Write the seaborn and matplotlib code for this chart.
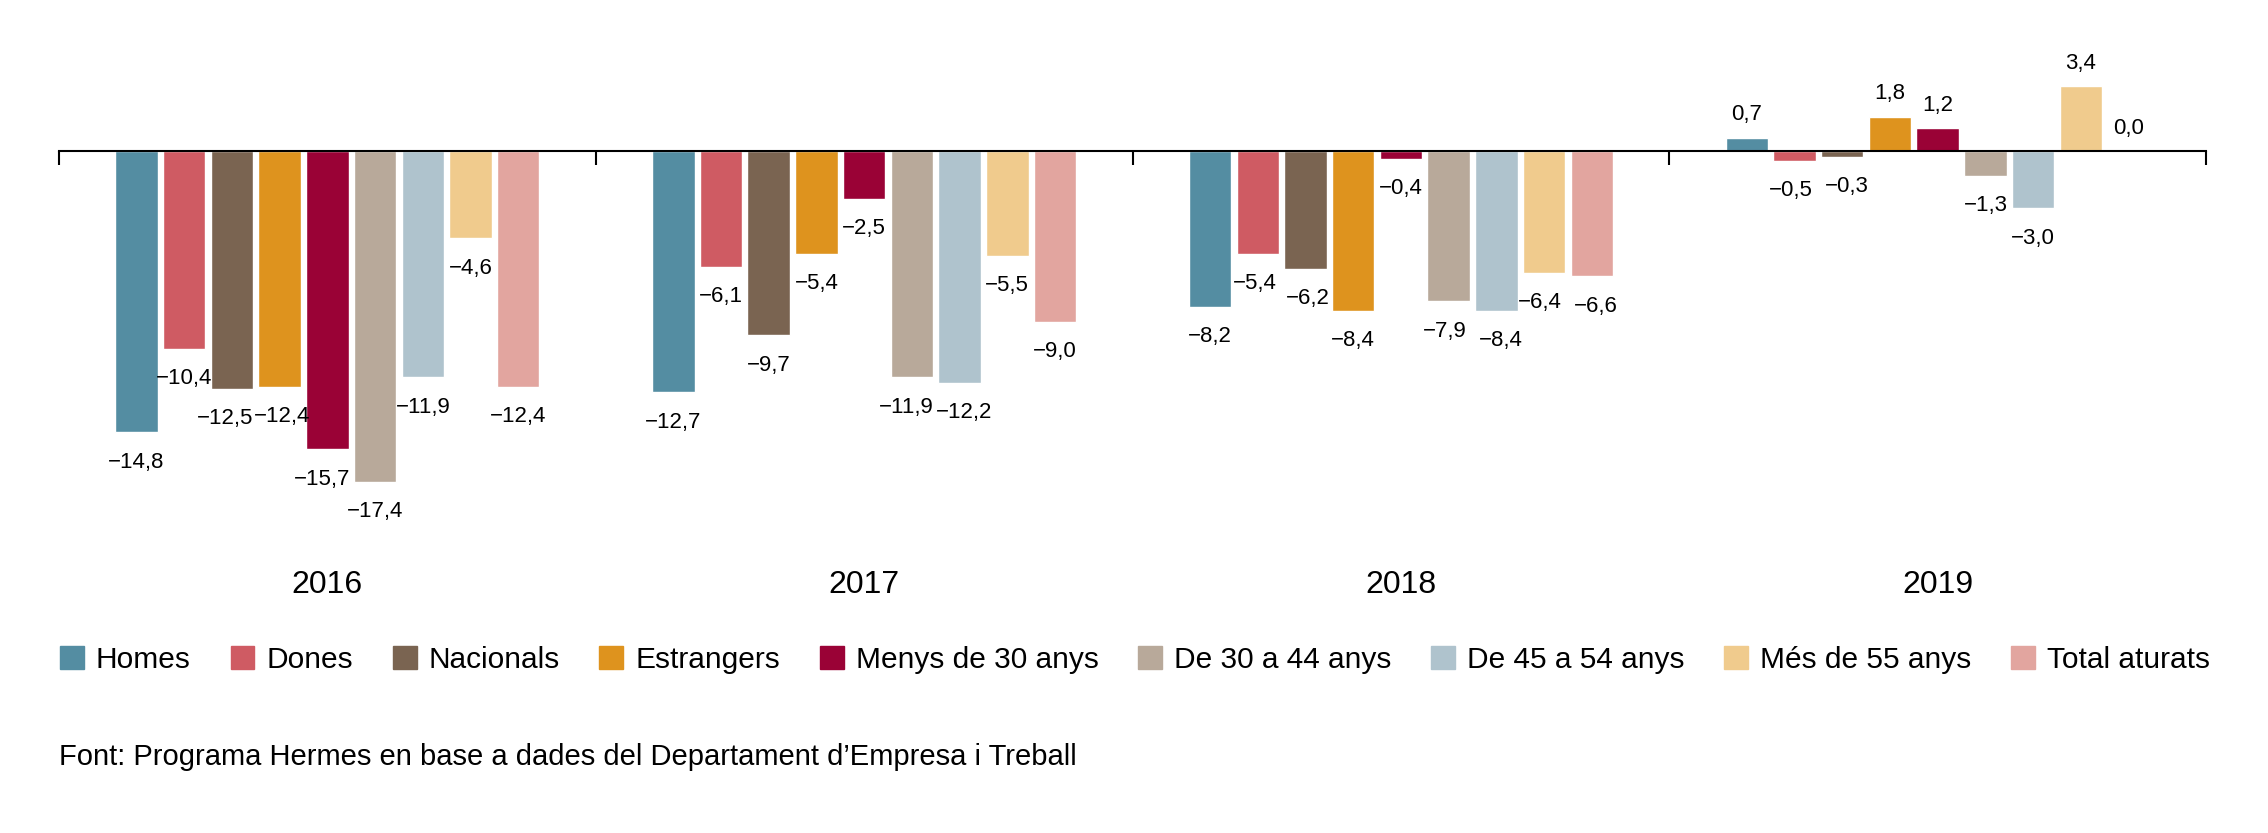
import pandas as pd
import matplotlib.pyplot as plt
import matplotlib.transforms as mtransforms
import seaborn as sns

# dades (variació %, llegides del gràfic)
anys = ["2016", "2017", "2018", "2019"]
grups = ["Homes", "Dones", "Nacionals", "Estrangers", "Menys de 30 anys",
         "De 30 a 44 anys", "De 45 a 54 anys", "Més de 55 anys", "Total aturats"]
colors = ["#548DA2", "#CF5B63", "#7A6451", "#DE931E", "#9A0236",
          "#B8A99A", "#AFC3CD", "#F0CB8D", "#E2A59F"]

v2016 = [-14.8, -10.4, -12.5, -12.4, -15.7, -17.4, -11.9, -4.6, -12.4]
v2017 = [-12.7, -6.1, -9.7, -5.4, -2.5, -11.9, -12.2, -5.5, -9.0]
v2018 = [-8.2, -5.4, -6.2, -8.4, -0.4, -7.9, -8.4, -6.4, -6.6]
v2019 = [0.7, -0.5, -0.3, 1.8, 1.2, -1.3, -3.0, 3.4, 0.0]

font_txt = "Font: Programa Hermes en base a dades del Departament d\u2019Empresa i Treball"

# petits desplaçaments (punts) d'algunes etiquetes perquè no es trepitgin
nudge = {(0, 2): -5, (0, 3): 2, (0, 4): -4, (1, 5): -4, (1, 6): 3, (2, 1): -2, (2, 2): 2,
         (2, 5): -3, (2, 6): 3, (2, 7): -3, (2, 8): 3, (3, 1): -3, (3, 2): 3}

rows = []
for any_, vals in zip(anys, [v2016, v2017, v2018, v2019]):
    for g, v in zip(grups, vals):
        rows.append({"any": any_, "grup": g, "valor": v})
df = pd.DataFrame(rows)

sns.set_theme(style="white")
plt.rcParams["font.family"] = ["Liberation Sans", "DejaVu Sans"]
plt.rcParams["text.color"] = "black"

fig = plt.figure(figsize=(22.68, 8.33), dpi=100)
ax = fig.add_axes([0.026, 0.3625, 0.9467, 0.593])

sns.barplot(data=df, x="any", y="valor", hue="grup", order=anys, hue_order=grups,
            palette=dict(zip(grups, colors)), width=0.8, gap=0.11,
            saturation=1, errorbar=None, legend=False, ax=ax)

def fmt(v):
    return f"{v:.1f}".replace(".", ",").replace("-", "\u2212")

for j, cont in enumerate(ax.containers):
    vals = [b.get_height() for b in cont]
    anns = ax.bar_label(cont, labels=[fmt(v) for v in vals], padding=9,
                        fontsize=16, color="black")
    for i, a in enumerate(anns):
        dx = nudge.get((i, j), 0)
        dy = -5 if vals[i] < 0 else 0
        x0, y0 = a.xyann
        a.xyann = (x0 + dx, y0 + dy)

ax.set_xlim(-0.5, 3.5)
ax.set_ylim(-20, 6)
for s in ["top", "right", "left"]:
    ax.spines[s].set_visible(False)
ax.spines["bottom"].set_position(("data", 0))
ax.spines["bottom"].set_color("black")
ax.spines["bottom"].set_linewidth(1.5)
ax.set_yticks([])
ax.set_xticks([-0.5, 0.5, 1.5, 2.5, 3.5])
ax.set_xticklabels([])
ax.tick_params(axis="x", direction="out", length=10, width=1.5, color="black", bottom=True)
ax.set_xlabel("")
ax.set_ylabel("")

# etiquetes dels anys
trans = mtransforms.blended_transform_factory(ax.transData, fig.transFigure)
for i, a in enumerate(anys):
    ax.text(i, 0.298, a, transform=trans, ha="center", va="center",
            fontsize=23, color="black", clip_on=False)

# llegenda
handles = [plt.Rectangle((0, 0), 1, 1, color=c) for c in colors]
fig.legend(handles, grups, loc="center left", bbox_to_anchor=(0.0265, 0.208),
           ncol=9, frameon=False, prop={"size": 21.5}, labelcolor="black",
           handlelength=0.8, handleheight=0.8, handletextpad=0.4,
           columnspacing=1.33, borderpad=0, borderaxespad=0)

fig.text(0.026, 0.0912, font_txt, ha="left", va="center", fontsize=21, color="black")

fig.savefig("out.png", dpi=100)
